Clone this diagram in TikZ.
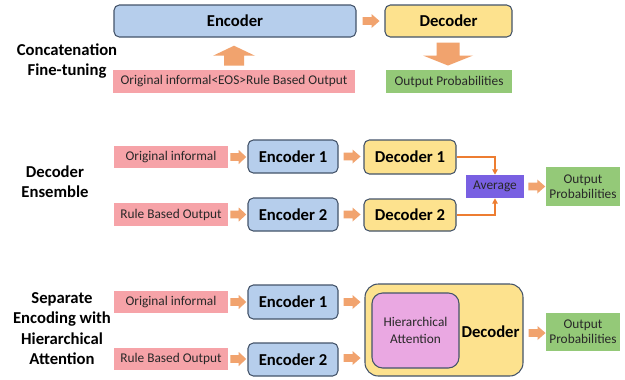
\documentclass[tikz,border=0pt]{standalone}
\usepackage{fontspec}
\setmainfont{Carlito}
\usetikzlibrary{arrows.meta}
\definecolor{encc}{RGB}{182,206,236}
\definecolor{decc}{RGB}{253,226,142}
\definecolor{bordc}{RGB}{68,84,106}
\definecolor{pinkc}{RGB}{246,163,168}
\definecolor{greenc}{RGB}{148,201,120}
\definecolor{arrowc}{RGB}{241,163,110}
\definecolor{linec}{RGB}{237,125,49}
\definecolor{avgc}{RGB}{121,96,226}
\definecolor{hierc}{RGB}{234,168,226}
\definecolor{txtc}{RGB}{40,40,40}
\begin{document}
\begin{tikzpicture}[x=0.75pt,y=-0.75pt,
  encbox/.style={draw=bordc, fill=encc, rounded corners=4pt, line width=0.8pt, inner sep=0pt,
    font=\bfseries\fontsize{12.5}{14}\selectfont, minimum height=24.75pt},
  decbox/.style={encbox, fill=decc},
  inbox/.style={fill=pinkc, inner sep=0pt, text=txtc, font=\fontsize{10}{12}\selectfont, minimum width=85.5pt, minimum height=16.5pt},
  outbox/.style={fill=greenc, inner sep=0pt, text=txtc, align=center, font=\fontsize{10}{11.25}\selectfont, minimum width=55.5pt, minimum height=29pt},
  seclabel/.style={align=center, font=\bfseries\fontsize{12.5}{15.2}\selectfont},
  conn/.style={draw=linec, line width=0.9pt, -{Triangle[length=4pt,width=4pt]}},
  rarrow/.pic={\fill[arrowc] (0,-3.8) -- (9,-3.8) -- (9,-7) -- (17,0) -- (9,7) -- (9,3.8) -- (0,3.8) -- cycle;},
  uparrow/.pic={\fill[arrowc] (-10,0) -- (-10,-10) -- (-21,-10) -- (0,-20) -- (21,-10) -- (10,-10) -- (10,0) -- cycle;},
  downarrow/.pic={\fill[arrowc] (-11.5,0) -- (11.5,0) -- (11.5,13) -- (25,13) -- (0,23) -- (-25,13) -- (-11.5,13) -- cycle;}
]
\fill[white] (0,0) rectangle (625,379);
\useasboundingbox (0,0) rectangle (625,379);

% ---------- Top: Concatenation Fine-tuning
\node[seclabel] (lab1) at (67,61) {Concatenation\\Fine-tuning};
\node[encbox, minimum width=181.5pt, minimum height=24pt] (tenc) at (235,21) {Encoder};
\node[decbox, minimum width=95.25pt, minimum height=24pt] (tdec) at (448.5,21) {Decoder};
\node[inbox, minimum width=181.5pt, minimum height=17.25pt] (tin) at (234,81.5) {Original informal<EOS>Rule Based Output};
\node[outbox, minimum width=94.5pt, minimum height=17.25pt] (tout) at (449,81.5) {Output Probabilities};
\path (tenc.east) ++(6,0) pic {rarrow};
\path (tin.north) ++(0,-4) pic {uparrow};
\path (tdec.south) ++(-0.5,5) pic {downarrow};

% ---------- Middle: Decoder Ensemble
\node[seclabel] (lab2) at (55,181.5) {Decoder\\Ensemble};
\node[inbox] (min1) at (171,157) {Original informal};
\node[inbox, minimum height=17.25pt] (min2) at (171,214.5) {Rule Based Output};
\node[encbox, minimum width=67.5pt] (menc1) at (293,156.5) {Encoder 1};
\node[encbox, minimum width=67.5pt] (menc2) at (293,214.5) {Encoder 2};
\node[decbox, minimum width=69pt, minimum height=25.5pt] (mdec1) at (410,157) {Decoder 1};
\node[decbox, minimum width=69pt, minimum height=24pt] (mdec2) at (410,215) {Decoder 2};
\node[fill=avgc, inner sep=0pt, minimum width=43.5pt, minimum height=17.25pt, text=txtc, font=\fontsize{10}{11}\selectfont] (avg) at (495,186.5) {Average};
\node[outbox] (mout) at (583,186.5) {Output\\Probabilities};
\path (min1.east) ++(2,0) pic[xscale=0.94] {rarrow};
\path (min2.east) ++(2,0) pic[xscale=0.94] {rarrow};
\path (menc1.east) ++(5,0) pic {rarrow};
\path (menc2.east) ++(5,0) pic {rarrow};
\path (avg.east) ++(4,0) pic {rarrow};
\draw[conn] (mdec1.east) -| (avg.north);
\draw[conn] (mdec2.east) -| (avg.south);

% ---------- Bottom: Separate Encoding with Hierarchical Attention
\node[seclabel] (lab3) at (62,328.5) {Separate\\Encoding with\\Hierarchical\\Attention};
\node[inbox] (bin1) at (171,302) {Original informal};
\node[inbox] (bin2) at (171,359) {Rule Based Output};
\node[encbox, minimum width=67.5pt, minimum height=25.5pt] (benc1) at (293,302) {Encoder 1};
\node[encbox, minimum width=67.5pt] (benc2) at (293,359.5) {Encoder 2};
\node[decbox, rounded corners=10pt, minimum width=118.5pt, minimum height=69pt] (bdec) at (444,330) {};
\node[draw=bordc, fill=hierc, line width=0.8pt, rounded corners=8pt, inner sep=0pt, minimum width=65.25pt, minimum height=56.25pt, align=center, text=txtc, font=\fontsize{10}{12.75}\selectfont] (hier) at (415.5,330.5) {Hierarchical\\Attention};
\node[font=\bfseries\fontsize{12.5}{14}\selectfont] (bdeclab) at (490.5,332) {Decoder};
\node[outbox] (bout) at (583,332) {Output\\Probabilities};
\path (bin1.east) ++(2,0) pic[xscale=0.94] {rarrow};
\path (bin2.east) ++(2,0) pic[xscale=0.94] {rarrow};
\path (benc1.east) ++(5,0) pic {rarrow};
\path (benc2.east) ++(5,-1.5) pic {rarrow};
\path (bdec.east) ++(5,3) pic {rarrow};
\end{tikzpicture}
\end{document}
